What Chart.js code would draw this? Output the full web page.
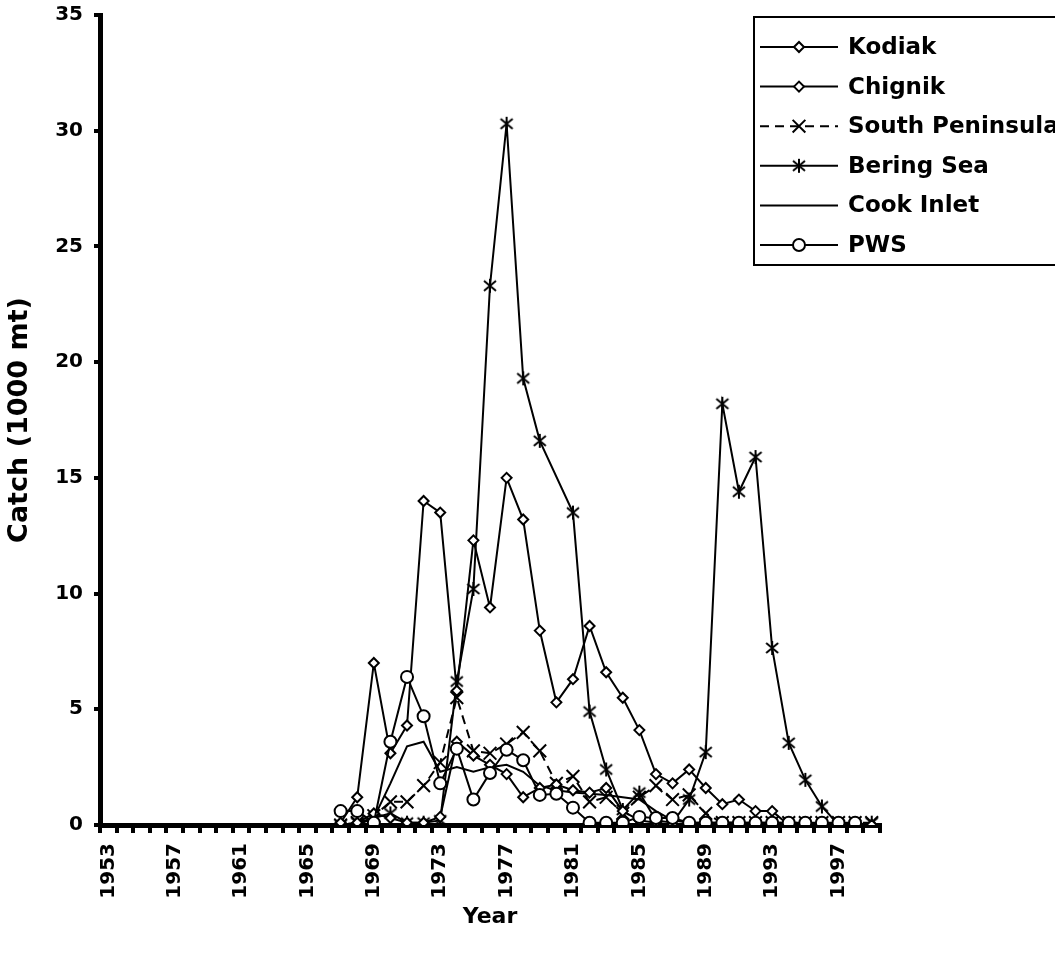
<!DOCTYPE html>
<html lang="en">
<head>
<meta charset="UTF-8">
<title>Catch by area</title>
<style>
  * { margin: 0; padding: 0; box-sizing: border-box; }
  body { background: #fff; width: 1055px; height: 955px; overflow: hidden; }
  #chart-box { position: relative; width: 1055px; height: 955px; }
</style>
</head>
<body>
<div id="chart-box">
  <canvas id="catchChart" width="1055" height="955"></canvas>
</div>
<script src="https://cdn.jsdelivr.net/npm/chart.js"></script>
<script>
// categories: one per year, labels shown every 4th year
const years = ['1953','1954','1955','1956','1957','1958','1959','1960','1961','1962',
  '1963','1964','1965','1966','1967','1968','1969','1970','1971','1972','1973','1974',
  '1975','1976','1977','1978','1979','1980','1981','1982','1983','1984','1985','1986',
  '1987','1988','1989','1990','1991','1992','1993','1994','1995','1996','1997','1998','1999'];
const shownYears = ['1953','1957','1961','1965','1969','1973','1977','1981','1985','1989','1993','1997'];
const yTicks = [0, 5, 10, 15, 20, 25, 30, 35];

// catch in 1000 mt, 1967..1999 (no fishery before 1967)
const kodiak = [0.1, 1.2, 7.0, 3.1, 4.3, 14.0, 13.5, 5.8, 12.3, 9.4, 15.0, 13.2, 8.4, 5.3, 6.3,
  8.6, 6.6, 5.5, 4.1, 2.2, 1.8, 2.4, 1.6, 0.9, 1.1, 0.6, 0.6, 0, 0, 0, 0, 0, 0];
const chignik = [0, 0.1, 0.5, 0.3, 0.1, 0.1, 0.35, 3.6, 3.0, 2.6, 2.2, 1.2, 1.6, 1.75, 1.5,
  1.4, 1.6, 0.6, 0.2, 0.1, 0, 0, 0, 0, 0, 0, 0, 0, 0, 0, 0, 0, 0];
const southPeninsula = [0, 0.1, 0.4, 1.0, 1.0, 1.7, 2.7, 5.5, 3.2, 3.1, 3.5, 4.0, 3.2, 1.8, 2.1,
  1.0, 1.2, 0.5, 1.2, 1.7, 1.1, 1.3, 0.5, 0.1, 0.1, 0.1, 0.1, 0.1, 0.1, 0.1, 0.1, 0.1, 0.1];
const beringSea = [0, 0.1, 0.3, 0.5, 0.1, 0.1, 0.2, 6.2, 10.2, 23.3, 30.3, 19.3, 16.6, null, 13.5,
  4.9, 2.4, 0.65, 1.4, 0.2, 0.1, 1.1, 3.15, 18.2, 14.4, 15.9, 7.65, 3.55, 1.95, 0.8, 0, 0, 0.1];
const cookInlet = [null, 0, 0.3, 1.8, 3.4, 3.6, 2.3, 2.5, 2.3, 2.5, 2.6, 2.3, 1.7, 1.5, 1.4,
  1.35, 1.3, 1.2, 1.1, 0.6, 0.2, 0.1, 0.1, 0.1, 0.1, 0, 0, 0, 0, 0, 0, 0, 0];
const pws = [0.6, 0.6, 0.1, 3.6, 6.4, 4.7, 1.8, 3.3, 1.1, 2.25, 3.25, 2.8, 1.3, 1.35, 0.75,
  0.1, 0.1, 0.1, 0.35, 0.3, 0.3, 0.1, 0.1, 0.1, 0.1, 0.1, 0.1, 0.1, 0.1, 0.1, 0.1, 0.1, null];

const before = Array(14).fill(null);
const FONT = "'DejaVu Sans', 'Liberation Sans', Arial, sans-serif";

// asterisk marker: an X with a vertical bar
function asterisk() {
  const c = document.createElement('canvas');
  c.width = 16; c.height = 16;
  const g = c.getContext('2d');
  g.strokeStyle = '#000';
  g.lineWidth = 2;
  g.beginPath();
  g.moveTo(2, 3); g.lineTo(14, 13);
  g.moveTo(14, 3); g.lineTo(2, 13);
  g.moveTo(8, 1); g.lineTo(8, 15);
  g.stroke();
  return c;
}
const starMark = asterisk();

function series(label, values, extra) {
  return Object.assign({
    label: label,
    data: before.concat(values),
    borderColor: '#000',
    borderWidth: 2,
    pointBorderColor: '#000',
    pointBackgroundColor: '#fff',
    pointBorderWidth: 2,
    tension: 0,
    spanGaps: true,
    order: 1
  }, extra);
}

const datasets = [
  series('Kodiak', kodiak, { pointStyle: 'rectRot', pointRadius: 5 }),
  series('Chignik', chignik, { pointStyle: 'rectRot', pointRadius: 5 }),
  series('South Peninsula', southPeninsula, { pointStyle: 'crossRot', pointRadius: 9, borderDash: [9, 6], pointBorderWidth: 2 }),
  series('Bering Sea', beringSea, { pointStyle: starMark, pointRadius: 8 }),
  series('Cook Inlet', cookInlet, { pointRadius: 0 }),
  series('PWS', pws, { pointStyle: 'circle', pointRadius: 6, order: 0 })
];

// boxed legend in the top right corner, over the plot
const boxLegend = {
  id: 'boxLegend',
  afterDraw(chart) {
    const ctx = chart.ctx;
    ctx.save();
    ctx.fillStyle = '#fff';
    ctx.fillRect(753, 16, 320, 249);
    ctx.strokeStyle = '#000';
    ctx.lineWidth = 2;
    ctx.strokeRect(754, 17, 320, 248);
    chart.data.datasets.forEach((ds, i) => {
      const y = 47 + i * 39.6;
      ctx.strokeStyle = '#000';
      ctx.lineWidth = 2;
      ctx.setLineDash(ds.borderDash || []);
      ctx.beginPath();
      ctx.moveTo(760, y);
      ctx.lineTo(838, y);
      ctx.stroke();
      ctx.setLineDash([]);
      if (ds.pointRadius > 0) {
        ctx.fillStyle = '#fff';
        ctx.lineWidth = 2;
        Chart.helpers.drawPoint(ctx, {
          pointStyle: ds.pointStyle,
          radius: ds.pointStyle === 'circle' ? 6 : ds.pointStyle === 'crossRot' ? 9 : ds.pointRadius,
          rotation: 0,
          borderWidth: 2
        }, 799, y);
      }
      ctx.fillStyle = '#000';
      ctx.font = 'bold 23px ' + FONT;
      ctx.textBaseline = 'middle';
      ctx.textAlign = 'left';
      ctx.fillText(ds.label, 848, y + 1);
    });
    ctx.restore();
  }
};

const ctx = document.getElementById('catchChart').getContext('2d');
new Chart(ctx, {
  type: 'line',
  data: { labels: years, datasets: datasets },
  options: {
    responsive: false,
    animation: false,
    layout: { padding: { top: 15, right: 175, left: 0, bottom: 0 } },
    plugins: {
      legend: { display: false },
      tooltip: { enabled: false }
    },
    scales: {
      x: {
        type: 'category',
        offset: true,
        grid: { offset: true, drawOnChartArea: false, drawTicks: true, tickLength: 8, lineWidth: 4, color: '#000' },
        border: { display: true, width: 5, color: '#000' },
        ticks: {
          autoSkip: false,
          maxRotation: 90,
          minRotation: 90,
          padding: 10,
          color: '#000',
          font: { family: FONT, weight: 'bold', size: 20 },
          callback: function (v, i) { return shownYears.includes(years[i]) ? years[i] : ''; }
        },
        title: {
          display: true,
          text: 'Year',
          color: '#000',
          font: { family: FONT, weight: 'bold', size: 22 },
          padding: { top: 0, bottom: 25 }
        },
        afterFit: function (s) { s.height = 130; }
      },
      y: {
        min: 0,
        max: 35,
        grid: { drawOnChartArea: false, drawTicks: true, tickLength: 6, lineWidth: 4, color: '#000' },
        border: { display: true, width: 5, color: '#000' },
        afterBuildTicks: function (s) { s.ticks = yTicks.map(v => ({ value: v })); },
        ticks: {
          padding: 11,
          color: '#000',
          font: { family: FONT, weight: 'bold', size: 20 }
        },
        title: {
          display: true,
          text: 'Catch (1000 mt)',
          color: '#000',
          font: { family: FONT, weight: 'bold', size: 27 },
          padding: { top: 4, bottom: 0 }
        },
        afterFit: function (s) { s.width = 100; s.paddingTop = 0; s.paddingBottom = 0; }
      }
    }
  },
  plugins: [boxLegend]
});
</script>
</body>
</html>
